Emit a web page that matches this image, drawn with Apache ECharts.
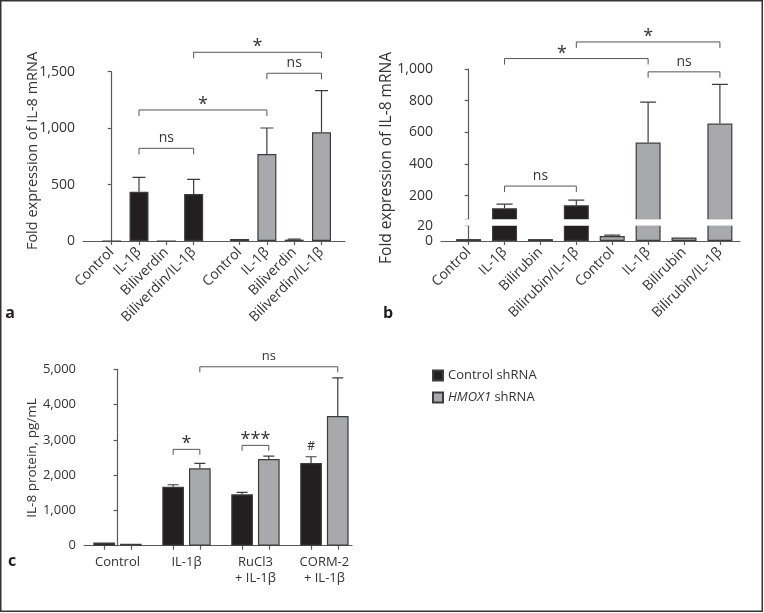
<!DOCTYPE html>
<html><head><meta charset="utf-8">
<script src="https://cdn.jsdelivr.net/npm/echarts@6/dist/echarts.min.js"></script>
<style>html,body{margin:0;padding:0;background:#fff}#c{width:764px;height:613px}</style>
</head><body><div id="c"></div>
<script>
// ================= DATA =================
// Panel a
const catsA = ['Control', 'IL-1β', 'Biliverdin', 'Biliverdin/IL-1β'];
const a1Values = [0, 437, 0, 416];
const a1Errors = [0, 127, 0, 130];
const a2Values = [18, 771, 12, 963];
const a2Errors = [0, 230, 5, 369];
const aTicks = [0, 500, 1000, 1500];
// brackets: [fromBar, toBar, level, text]  (bars numbered 0..7 left to right)
const aBrackets = [[1, 3, 821, 'ns'], [1, 5, 1161, '*'], [5, 7, 1486, 'ns'], [3, 7, 1672, '*']];

// Panel b
const catsB = ['Control', 'IL-1β', 'Bilirubin', 'Bilirubin/IL-1β'];
const b1Values = [2.5, 120, 2.5, 139];
const b1Errors = [0, 26, 0, 32];
const b2Values = [6.5, 535, 4.5, 655];
const b2Errors = [1.3, 255, 0, 248];
const bTicksLow = [0, 20];
const bTicksHigh = [200, 400, 600, 800, 1000];
const bBrackets = [[1, 3, 260, 'ns'], [1, 5, 1066, '*', 2.6], [5, 7, 982, 'ns'], [3, 7, 1171, '*']];

// Panel c
const catsC = ['Control', 'IL-1β', 'RuCl3\n+ IL-1β', 'CORM-2\n+ IL-1β'];
const seriesC = ['Control shRNA', 'HMOX1 shRNA'];
const cControl = [90, 1671, 1456, 2343];
const cControlErr = [0, 57, 57, 178];
const cHmox = [55, 2192, 2456, 3674];
const cHmoxErr = [0, 142, 85, 1085];
const cTicks = [0, 1000, 2000, 3000, 4000, 5000];
// brackets: [[group, series], [group, series], level, text]
const cBrackets = [[[1, 0], [1, 1], 2731, '*'], [[2, 0], [2, 1], 2844, '***'], [[1, 1], [3, 1], 5071, 'ns']];
const cMarks = [[[3, 0], 2805, '#']];

// ================= STYLE / LAYOUT =================
const FONT = '"Open Sans", "Noto Sans", sans-serif';
const TXT = '#333333', AXC = '#5a5a5a', BLACK = '#231f20', GRAY = '#a7a9ac', EDGE = '#3c3c3c', BRK = '#555555';

const A = {left: 83, top: 71.7, width: 262, height: 169.3, min: -1.05, max: 8.54, gap: 0.68, barW: 19, fs: 14};
// panel b: broken y axis drawn as two stacked grids; each grid extends EXT px into the break, which is then blanked
const EXT = 0.9;
const B = {left: 441, width: 299, topHi: 69, hHi: 150.3, topLo: 225.7, hLo: 15.3, min: -0.77, max: 7.56, barW: 25, hiMin: 50, fs: 14};
const C = {left: 84, top: 369.3, width: 268, height: 176.4, min: -0.486, max: 3.40, barW: 21.7, gap: 5, fs: 13};

const hiMax = bTicksHigh[bTicksHigh.length - 1], loMax = bTicksLow[bTicksLow.length - 1];
const hiMinExt = B.hiMin - EXT * (hiMax - B.hiMin) / B.hHi;
const loMaxExt = loMax + EXT * (loMax - bTicksLow[0]) / B.hLo;

const aPos1 = catsA.map((_, i) => i);
const aPos2 = catsA.map((_, i) => i + catsA.length + A.gap);
const aPosAll = aPos1.concat(aPos2);
const bPos1 = catsB.map((_, i) => i);
const bPos2 = catsB.map((_, i) => i + catsB.length);
const bPosAll = bPos1.concat(bPos2);
const cUnit = C.width / (C.max - C.min);
const cOff = (C.barW + C.gap) / 2 / cUnit;
const cPos = catsC.map((_, i) => i);
const cPosOf = (gs) => gs[0] + (gs[1] === 0 ? -cOff : cOff);

const fmt = v => Number(v).toLocaleString('en-US');
const key = v => (+v).toFixed(3);

function labelMapOf(pos, names) { const m = {}; pos.forEach((p, i) => m[key(p)] = names[i]); return m; }

function xAxisOf(gi, min, max, tickVals, labelVals, names, rotate, show, fs) {
  const m = labelMapOf(labelVals, names);
  return {
    gridIndex: gi, type: 'value', min: min, max: max, show: show,
    axisLine: {show: true, onZero: false, lineStyle: {color: AXC, width: 1.2}},
    axisTick: {show: true, customValues: tickVals, length: 4, lineStyle: {color: AXC, width: 1.2}},
    axisLabel: {customValues: labelVals, formatter: v => m[key(v)] || '', rotate: rotate, margin: rotate ? 9 : 9,
      fontSize: fs, fontFamily: FONT, color: TXT, lineHeight: 16, hideOverlap: false},
    splitLine: {show: false}
  };
}
function yAxisOf(gi, min, max, tickVals, labelVals, fs) {
  return {
    gridIndex: gi, type: 'value', min: min, max: max,
    axisLine: {show: true, lineStyle: {color: AXC, width: 1.2}},
    axisTick: {show: true, customValues: tickVals, length: 4, lineStyle: {color: AXC, width: 1.2}},
    axisLabel: {customValues: labelVals, formatter: fmt, margin: 8, fontSize: fs, fontFamily: FONT, color: TXT},
    splitLine: {show: false}
  };
}
function barSeries(name, xi, yi, pos, vals, color, barW, barGap) {
  return {type: 'bar', name: name, xAxisIndex: xi, yAxisIndex: yi, barWidth: barW, barGap: barGap,
    clip: true, silent: true, z: 3, animation: false,
    data: pos.map((p, i) => [p, vals[i]]),
    itemStyle: {color: color, borderColor: EDGE, borderWidth: 1.2}};
}
function errSeries(xi, yi, pos, vals, errs, capW) {
  return {type: 'custom', xAxisIndex: xi, yAxisIndex: yi, clip: true, silent: true, z: 2, animation: false,
    data: pos.map((p, i) => [p, vals[i], errs[i]]),
    renderItem: function (params, api) {
      const x = api.value(0), v = api.value(1), e = api.value(2);
      if (!(e > 0)) return null;
      const p1 = api.coord([x, v]), p2 = api.coord([x, v + e]);
      const st = {stroke: EDGE, lineWidth: 1.2};
      return {type: 'group', children: [
        {type: 'line', shape: {x1: p1[0], y1: p1[1], x2: p1[0], y2: p2[1]}, style: st},
        {type: 'line', shape: {x1: p1[0] - capW / 2, y1: p2[1], x2: p1[0] + capW / 2, y2: p2[1]}, style: st}
      ]};
    }};
}
function bracketSeries(xi, yi, list, posOf, leg, fs) {
  return {type: 'custom', xAxisIndex: xi, yAxisIndex: yi, clip: false, silent: true, z: 4, animation: false,
    data: list.map(b => [posOf(b[0]), posOf(b[1]), b[2]]),
    renderItem: function (params, api) {
      const b = list[params.dataIndex];
      const p1 = api.coord([api.value(0), api.value(2)]);
      const p2 = api.coord([api.value(1), api.value(2)]);
      const y = p1[1];
      const tx = b[4] != null ? api.coord([b[4], b[2]])[0] : (p1[0] + p2[0]) / 2;
      const star = b[3].indexOf('*') >= 0;
      return {type: 'group', children: [
        {type: 'polyline', shape: {points: [[p1[0], y + leg], [p1[0], y], [p2[0], y], [p2[0], y + leg]]},
          style: {stroke: BRK, lineWidth: 1, fill: null}},
        {type: 'text', style: {text: b[3], x: tx, y: star ? y - 5 : y - 10, align: 'center', verticalAlign: 'middle',
          textAlign: 'center', textVerticalAlign: 'middle',
          fontSize: star ? 18 : fs, fontFamily: FONT, fill: TXT}}
      ]};
    }};
}
function nameText(txt, x, y, fs) {
  return {type: 'text', x: x, y: y, rotation: Math.PI / 2, silent: true,
    style: {text: txt, fontSize: fs, fontFamily: FONT, fill: TXT, align: 'center', verticalAlign: 'middle', textAlign: 'center', textVerticalAlign: 'middle'}};
}
function panelText(txt, x, y) {
  return {type: 'text', x: x, y: y, silent: true,
    style: {text: txt, fontSize: 16, fontWeight: 'bold', fontFamily: FONT, fill: '#231f20', align: 'center', verticalAlign: 'middle', textAlign: 'center', textVerticalAlign: 'middle'}};
}

const aNames = catsA.concat(catsA);
const bNames = catsB.concat(catsB);
const cTickPos = [];
cPos.forEach(p => { cTickPos.push(p - cOff, p + cOff); });
const cGap = (C.gap / C.barW * 100).toFixed(1) + '%';

const option = {
  animation: false,
  backgroundColor: '#ffffff',
  textStyle: {fontFamily: FONT},
  grid: [
    {left: A.left, top: A.top, width: A.width, height: A.height, outerBoundsMode: 'none'},
    {left: B.left, top: B.topHi, width: B.width, height: B.hHi + EXT, outerBoundsMode: 'none'},
    {left: B.left, top: B.topLo - EXT, width: B.width, height: B.hLo + EXT, outerBoundsMode: 'none'},
    {left: C.left, top: C.top, width: C.width, height: C.height, outerBoundsMode: 'none'}
  ],
  xAxis: [
    xAxisOf(0, A.min, A.max, aPosAll, aPosAll, aNames, 45, true, A.fs),
    xAxisOf(1, B.min, B.max, bPosAll, bPosAll, bNames, 45, false, B.fs),
    xAxisOf(2, B.min, B.max, bPosAll, bPosAll, bNames, 45, true, B.fs),
    xAxisOf(3, C.min, C.max, cTickPos, cPos, catsC, 0, true, C.fs)
  ],
  yAxis: [
    yAxisOf(0, aTicks[0], aTicks[aTicks.length - 1], aTicks, aTicks, A.fs),
    yAxisOf(1, hiMinExt, hiMax, [B.hiMin].concat(bTicksHigh), bTicksHigh, B.fs),
    yAxisOf(2, bTicksLow[0], loMaxExt, bTicksLow, bTicksLow, B.fs),
    yAxisOf(3, cTicks[0], cTicks[cTicks.length - 1], cTicks, cTicks, C.fs)
  ],
  legend: {
    data: seriesC, orient: 'vertical', left: 427, top: 364, itemWidth: 10, itemHeight: 10, itemGap: 9,
    icon: 'rect', selectedMode: false,
    formatter: n => n === 'HMOX1 shRNA' ? '{i|HMOX1} shRNA' : n,
    textStyle: {fontSize: 13, fontFamily: FONT, color: TXT,
      rich: {i: {fontStyle: 'italic', fontSize: 13, fontFamily: FONT, color: TXT}}}
  },
  series: [
    // panel a
    barSeries('a1', 0, 0, aPos1, a1Values, BLACK, A.barW, '-100%'),
    barSeries('a2', 0, 0, aPos2, a2Values, GRAY, A.barW, '-100%'),
    errSeries(0, 0, aPosAll, a1Values.concat(a2Values), a1Errors.concat(a2Errors), 13),
    bracketSeries(0, 0, aBrackets, i => aPosAll[i], 6, 14),
    // panel b upper
    barSeries('b1h', 1, 1, bPos1, b1Values, BLACK, B.barW, '-100%'),
    barSeries('b2h', 1, 1, bPos2, b2Values, GRAY, B.barW, '-100%'),
    errSeries(1, 1, bPosAll, b1Values.concat(b2Values), b1Errors.concat(b2Errors), 16),
    bracketSeries(1, 1, bBrackets, i => bPosAll[i], 6, 14),
    // panel b lower
    barSeries('b1l', 2, 2, bPos1, b1Values, BLACK, B.barW, '-100%'),
    barSeries('b2l', 2, 2, bPos2, b2Values, GRAY, B.barW, '-100%'),
    errSeries(2, 2, bPosAll, b1Values.concat(b2Values), b1Errors.concat(b2Errors), 16),
    // panel c
    barSeries(seriesC[0], 3, 3, cPos, cControl, BLACK, C.barW, cGap),
    barSeries(seriesC[1], 3, 3, cPos, cHmox, GRAY, C.barW, cGap),
    errSeries(3, 3, cPos.map(p => p - cOff).concat(cPos.map(p => p + cOff)), cControl.concat(cHmox), cControlErr.concat(cHmoxErr), 11),
    bracketSeries(3, 3, cBrackets, cPosOf, 5.5, 13),
    {type: 'custom', xAxisIndex: 3, yAxisIndex: 3, clip: false, silent: true, z: 4, animation: false,
      data: cMarks.map(m => [cPosOf(m[0]), m[1]]),
      renderItem: function (params, api) {
        const p = api.coord([api.value(0), api.value(1)]);
        return {type: 'text', style: {text: cMarks[params.dataIndex][2], x: p[0], y: p[1], align: 'center',
          verticalAlign: 'middle', textAlign: 'center', textVerticalAlign: 'middle', fontSize: 12, fontFamily: FONT, fill: TXT}};
      }}
  ],
  graphic: [
    {type: 'rect', silent: true, shape: {x: 0.75, y: 0.75, width: 761.5, height: 610.5},
      style: {fill: null, stroke: '#333333', lineWidth: 1.5}},
    // white band of the axis break in panel b
    {type: 'rect', silent: true, z: 100, shape: {x: B.left - 0.8, y: B.topHi + B.hHi, width: B.width + 1.6, height: B.topLo - B.topHi - B.hHi},
      style: {fill: '#ffffff'}},
    nameText('Fold expression of IL-8 mRNA', 33, 151, 14.5),
    nameText('Fold expression of IL-8 mRNA', 387, 158, 15.5),
    nameText('IL-8 protein, pg/mL', 32, 458, 13.5),
    panelText('a', 10, 313),
    panelText('b', 388, 313),
    panelText('c', 12, 561)
  ]
};

const chart = echarts.init(document.getElementById('c'), null, {renderer: 'canvas'});
chart.setOption(option);
</script>
</body></html>
